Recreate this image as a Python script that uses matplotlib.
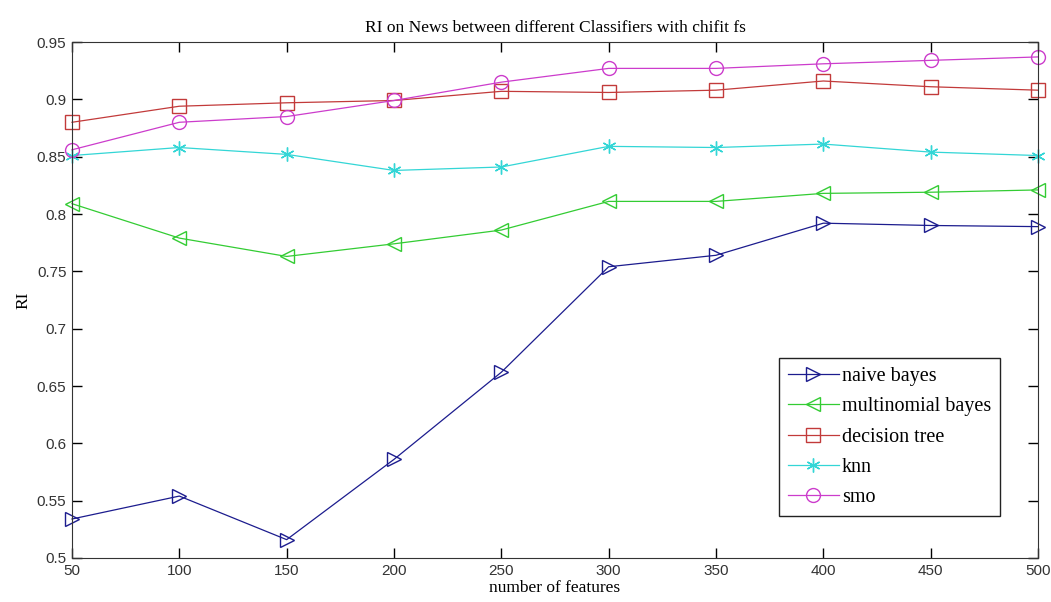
import matplotlib
matplotlib.use("Agg")
import matplotlib.pyplot as plt

features = [50, 100, 150, 200, 250, 300, 350, 400, 450, 500]
naive_bayes = [0.534, 0.554, 0.516, 0.586, 0.662, 0.754, 0.764, 0.792, 0.790, 0.789]
multinomial_bayes = [0.809, 0.779, 0.763, 0.774, 0.786, 0.811, 0.811, 0.818, 0.819, 0.821]
decision_tree = [0.880, 0.894, 0.897, 0.899, 0.907, 0.906, 0.908, 0.916, 0.911, 0.908]
knn = [0.851, 0.858, 0.852, 0.838, 0.841, 0.859, 0.858, 0.861, 0.854, 0.851]
smo = [0.856, 0.880, 0.885, 0.899, 0.915, 0.927, 0.927, 0.931, 0.934, 0.937]

yticks = [0.5, 0.55, 0.6, 0.65, 0.7, 0.75, 0.8, 0.85, 0.9, 0.95]

fig = plt.figure(figsize=(10.51, 6.02), dpi=100)
ax = fig.add_axes([0.0685, 0.0731, 0.9191, 0.8571])

serif = "Liberation Serif"
sans = "Liberation Sans"
asterisk = (6, 2, 0)

series = [
    (naive_bayes, "naive bayes", "#1c1c8e", ">"),
    (multinomial_bayes, "multinomial bayes", "#33cc33", "<"),
    (decision_tree, "decision tree", "#c23a3a", "s"),
    (knn, "knn", "#33d6d6", asterisk),
    (smo, "smo", "#cc3ccc", "o"),
]
for vals, name, col, mk in series:
    ax.plot(features, vals, color=col, lw=0.9, marker=mk, markersize=10,
            markerfacecolor="none", markeredgecolor=col, markeredgewidth=1.0,
            label=name, clip_on=False)

ax.set_xlim(50, 500)
ax.set_ylim(0.5, 0.95)
ax.set_xticks(features)
ax.set_yticks(yticks)
ax.set_yticklabels(["%g" % v for v in yticks])
ax.tick_params(direction="in", top=True, right=True, length=7, width=1,
               labelsize=11, pad=4)
for lab in ax.get_xticklabels() + ax.get_yticklabels():
    lab.set_fontfamily(sans)
    lab.set_color("#333333")
for sp in ax.spines.values():
    sp.set_color("#333333")

ax.set_title("RI on News between different Classifiers with chifit fs",
             fontfamily=serif, fontsize=12.5, pad=7)
ax.set_xlabel("number of features", fontfamily=serif, fontsize=12.5, labelpad=2)
ax.set_ylabel("RI", fontfamily=serif, fontsize=12.5, labelpad=4)

leg = ax.legend(loc="lower right", bbox_to_anchor=(0.9607, 0.0814),
                borderaxespad=0, fancybox=False, framealpha=1,
                edgecolor="#222222", prop={"family": serif, "size": 14.5},
                handlelength=2.5, handletextpad=0.15, labelspacing=0.55,
                borderpad=0.45)
leg.get_frame().set_linewidth(1.0)

fig.savefig("out.png", dpi=100)
